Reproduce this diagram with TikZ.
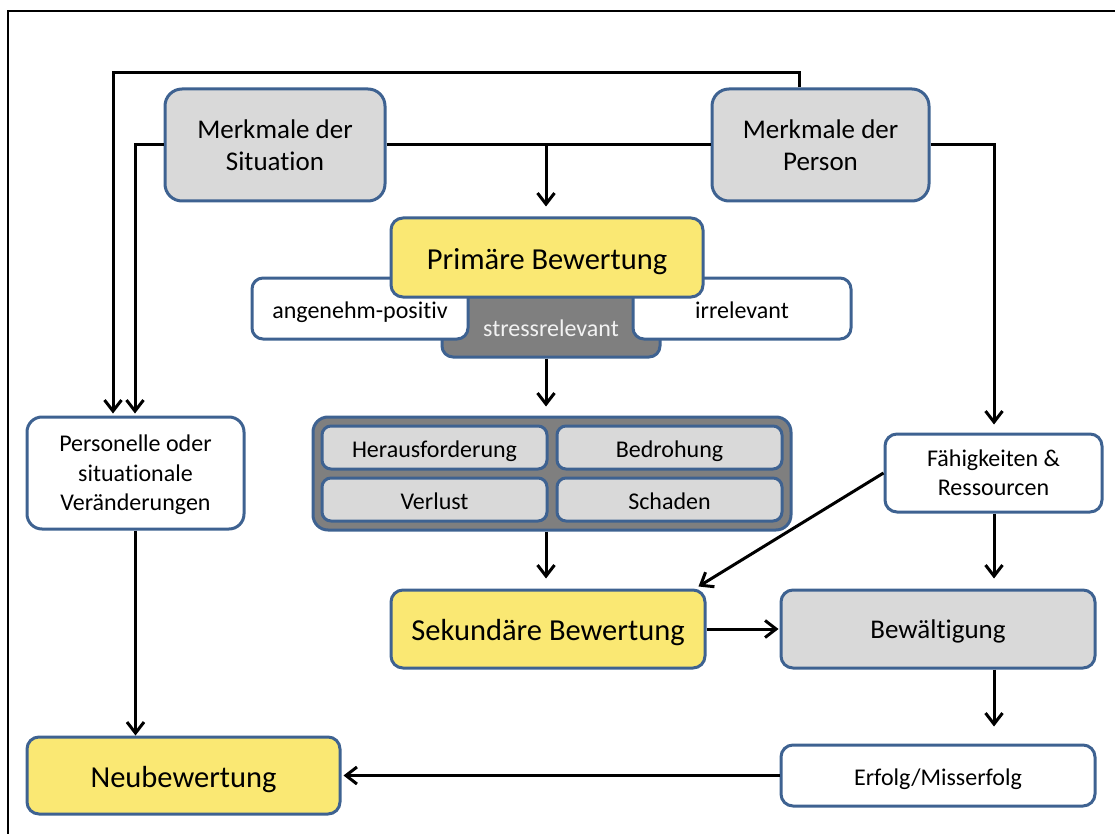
\documentclass[tikz,border=0pt]{standalone}
\usepackage{fontspec}
\setmainfont{Carlito}[Ligatures=NoCommon]
\usetikzlibrary{arrows.meta,calc}

\definecolor{frameblue}{RGB}{62,98,145}
\definecolor{boxgray}{RGB}{217,217,217}
\definecolor{boxyellow}{RGB}{250,232,115}
\definecolor{darkgray}{RGB}{127,127,127}
\definecolor{paletext}{RGB}{242,242,242}

\tikzset{
  box/.style={draw=frameblue, line width=3pt, rounded corners=#1, inner sep=0pt,
              align=center, text=black},
  box/.default=12pt,
  smalltext/.style={font=\fontsize{24}{29.5}\selectfont},
  midtext/.style={font=\fontsize{27}{32}\selectfont},
  bigtext/.style={font=\fontsize{30.5}{36}\selectfont},
  % single-line labels: fixed height/depth so the baseline sits where it should
  smallline/.style={smalltext, text height=20pt, text depth=1pt},
  midline/.style={midtext, text height=22pt, text depth=2.5pt},
  bigline/.style={bigtext, text height=25pt, text depth=2pt},
  conn/.style={line width=3pt, black},
  arr/.style={conn, -{Straight Barb[length=11pt,width=17pt]}},
}

\begin{document}
\begin{tikzpicture}[x=1pt,y=-1pt]
\useasboundingbox (0,0) rectangle (1115,834);
% outer frame, running off the page at right and bottom
\draw[line width=2.5pt] (8,11) rectangle (1140,860);

% top row
\node[box=17pt, fill=boxgray, midtext, minimum width=220pt, minimum height=112pt]
  (sit) at (275,145) {Merkmale der\\Situation};
\node[box=17pt, fill=boxgray, midtext, minimum width=217pt, minimum height=112pt]
  (pers) at (820.5,145) {Merkmale der\\Person};

% primary appraisal with its three outcomes
\node[box=11pt, fill=darkgray, minimum width=218pt, minimum height=87pt]
  (stress) at (551,313.5) {};
\node[text=paletext, smalltext, inner sep=0pt] (stresslbl) at (551,328) {stressrelevant};
\node[box=11pt, fill=white, smallline, minimum width=216pt, minimum height=61pt]
  (angen) at (360,308.5) {angenehm-positiv};
\node[box=11pt, fill=white, smallline, minimum width=218pt, minimum height=61pt]
  (irrel) at (742,308.5) {irrelevant};
\node[box=12pt, fill=boxyellow, bigline, minimum width=312pt, minimum height=79pt]
  (prim) at (547,257.5) {Primäre Bewertung};

% group of stress appraisals
\node[box=15pt, fill=darkgray, minimum width=478pt, minimum height=113pt]
  (group) at (552,473.5) {};
\node[box=9pt, fill=boxgray, smallline, minimum width=225pt, minimum height=43pt]
  (heraus) at (434.5,447.5) {Herausforderung};
\node[box=9pt, fill=boxgray, smallline, minimum width=225pt, minimum height=43pt]
  (bedro) at (669.5,447.5) {Bedrohung};
\node[box=9pt, fill=boxgray, smallline, minimum width=225pt, minimum height=43pt]
  (verlust) at (434.5,499.5) {Verlust};
\node[box=9pt, fill=boxgray, smallline, minimum width=225pt, minimum height=43pt]
  (schaden) at (669.5,499.5) {Schaden};

% left column
\node[box=15pt, fill=white, smalltext, text depth=-4pt, minimum width=217pt, minimum height=112pt]
  (change) at (135.5,473) {Personelle oder\\situationale\\Veränderungen};
\node[box=12pt, fill=boxyellow, bigline, minimum width=313pt, minimum height=77pt]
  (neu) at (183.5,775.5) {Neubewertung};

% right column
\node[box=12pt, fill=white, smalltext, minimum width=217pt, minimum height=78pt]
  (faeh) at (993.5,473) {Fähigkeiten \&\\Ressourcen};
\node[box=12pt, fill=boxyellow, bigline, minimum width=314pt, minimum height=78pt]
  (sek) at (548,629) {Sekundäre Bewertung};
\node[box=12pt, fill=boxgray, midline, minimum width=314pt, minimum height=78pt]
  (bew) at (938,629) {Bewältigung};
\node[box=12pt, fill=white, smallline, minimum width=314pt, minimum height=61pt]
  (erf) at (938,775.5) {Erfolg/Misserfolg};

% routing points of the connectors
\coordinate (loopL) at (113,73);
\coordinate (loopR) at (799,73);
\coordinate (sitL) at (135,145);
\coordinate (mid) at (546,145);
\coordinate (persR) at (994,145);

% connectors
\draw[arr, shorten >=2pt] (pers.north -| loopR) -- (loopR) -- (loopL) -- (change.north -| loopL);
\draw[arr, shorten >=2pt] (sit.west) -- (sitL) -- (change.north -| sitL);
\draw[conn] (sit.east) -- (pers.west);
\draw[arr, shorten >=10pt] (mid) -- (prim.north -| mid);
\draw[arr, shorten >=8pt] (pers.east) -- (persR) -- (faeh.north -| persR);
\draw[arr, shorten >=9pt] (stress.south -| mid) -- (group.north -| mid);
\draw[arr, shorten >=10pt] (group.south -| mid) -- (sek.north -| mid);
\draw[arr] (faeh.west) -- ($(sek.north east)+(-8,-2)$);
\draw[arr, shorten >=10pt] (faeh.south -| persR) -- (bew.north -| persR);
\draw[arr, shorten >=1pt] (sek.east) -- (bew.west);
\draw[arr, shorten >=17pt] (bew.south -| persR) -- (erf.north -| persR);
\draw[arr, shorten >=2pt] (erf.west) -- (neu.east);
\draw[arr] (change.south) -- (change.south |- neu.north);
\end{tikzpicture}
\end{document}
